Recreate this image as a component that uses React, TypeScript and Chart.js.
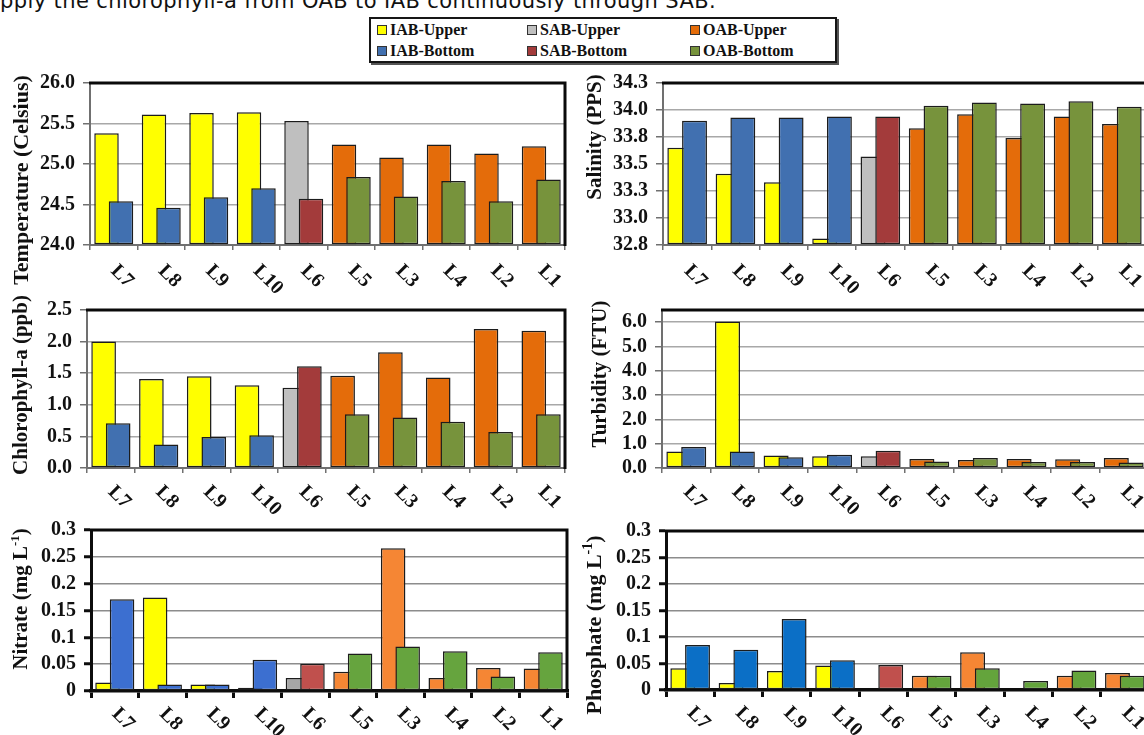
import React, { useEffect, useRef } from "react";
import { Chart, registerables } from "chart.js";

Chart.register(...registerables);

// ---------- data ----------
const stations = ["L7", "L8", "L9", "L10", "L6", "L5", "L3", "L4", "L2", "L1"];
const stationZones = ["IAB", "IAB", "IAB", "IAB", "SAB", "OAB", "OAB", "OAB", "OAB", "OAB"];

const temperatureUpper = [25.38, 25.61, 25.63, 25.64, 25.53, 25.24, 25.08, 25.24, 25.13, 25.22];
const temperatureBottom = [24.54, 24.46, 24.59, 24.7, 24.57, 24.84, 24.6, 24.79, 24.54, 24.81];
const salinityUpper = [33.65, 33.41, 33.33, 32.81, 33.57, 33.83, 33.96, 33.74, 33.94, 33.87];
const salinityBottom = [33.9, 33.93, 33.93, 33.94, 33.94, 34.04, 34.07, 34.06, 34.08, 34.03];
const chlorophyllUpper = [2.0, 1.41, 1.45, 1.31, 1.27, 1.46, 1.83, 1.43, 2.2, 2.17];
const chlorophyllBottom = [0.71, 0.37, 0.49, 0.52, 1.61, 0.85, 0.8, 0.73, 0.57, 0.85];
const turbidityUpper = [0.68, 6.03, 0.51, 0.48, 0.48, 0.37, 0.33, 0.37, 0.36, 0.41];
const turbidityBottom = [0.86, 0.68, 0.44, 0.55, 0.71, 0.27, 0.41, 0.25, 0.25, 0.23];
const nitrateUpper = [0.016, 0.174, 0.012, 0.006, 0.024, 0.036, 0.266, 0.024, 0.043, 0.042];
const nitrateBottom = [0.171, 0.012, 0.012, 0.058, 0.051, 0.07, 0.083, 0.074, 0.027, 0.072];
const phosphateUpper = [0.041, 0.013, 0.036, 0.046, 0, 0.027, 0.071, 0.002, 0.027, 0.032];
const phosphateBottom = [0.085, 0.076, 0.134, 0.056, 0.047, 0.027, 0.041, 0.017, 0.037, 0.027];

// tick values of each value axis
const temperatureTicks = [24, 24.5, 25, 25.5, 26];
const salinityTicks = [32.75, 33, 33.25, 33.5, 33.75, 34, 34.25];
const chlorophyllTicks = [0, 0.5, 1, 1.5, 2, 2.5];
const turbidityTicks = [0, 1, 2, 3, 4, 5, 6];
const nutrientTicks = [0, 0.05, 0.1, 0.15, 0.2, 0.25, 0.3];

const legendLabels = ["IAB-Upper", "SAB-Upper", "OAB-Upper", "IAB-Bottom", "SAB-Bottom", "OAB-Bottom"];
const legendColors = ["#FFFF00", "#BFBFBF", "#E46C0A", "#4170B0", "#A33B3B", "#77933C"];

const topTextLine = "pply the chlorophyll-a from OAB to IAB continuously through SAB.";

// ---------- styling ----------
const SERIF = '"Liberation Serif", "Times New Roman", Times, serif';

type Zone = "IAB" | "SAB" | "OAB";
type Palette = Record<Zone, { upper: string; bottom: string }>;

const paletteClassic: Palette = {
  IAB: { upper: "#FFFF00", bottom: "#4170B0" },
  SAB: { upper: "#BFBFBF", bottom: "#A33B3B" },
  OAB: { upper: "#E46C0A", bottom: "#77933C" },
};
const paletteNitrate: Palette = {
  IAB: { upper: "#FFFF00", bottom: "#3C6FD0" },
  SAB: { upper: "#A6A6A6", bottom: "#C0504D" },
  OAB: { upper: "#F58634", bottom: "#66A43E" },
};
const palettePhosphate: Palette = {
  IAB: { upper: "#FFFF00", bottom: "#0B6FC6" },
  SAB: { upper: "#A6A6A6", bottom: "#C0504D" },
  OAB: { upper: "#F58634", bottom: "#64A43C" },
};

const fmt1 = (v: number) => v.toFixed(1);
const fmtPlain = (v: number) => String(Math.round(v * 1000) / 1000);

interface PanelDef {
  id: string;
  upper: number[];
  bottom: number[];
  yMin: number;
  yMax: number;
  ticks: number[];
  fmt: (v: number) => string;
  titleParts: { text: string; sup?: boolean }[];
  titleSize: number;
  titleAt: { x: number; y: number };
  box: { left: number; top: number; width: number; height: number };
  plot: { l: number; t: number; r: number; b: number };
  palette: Palette;
  heavy: boolean;
  labelDy: number;
}

const panels: PanelDef[] = [
  {
    id: "temperature",
    upper: temperatureUpper,
    bottom: temperatureBottom,
    yMin: 24,
    yMax: 26,
    ticks: temperatureTicks,
    fmt: fmt1,
    titleParts: [{ text: "Temperature (Celsius)" }],
    titleSize: 22,
    titleAt: { x: 23, y: 180 },
    box: { left: 0, top: 60, width: 580, height: 240 },
    plot: { l: 90, t: 83, r: 565, b: 245 },
    palette: paletteClassic,
    heavy: false,
    labelDy: 23,
  },
  {
    id: "salinity",
    upper: salinityUpper,
    bottom: salinityBottom,
    yMin: 32.75,
    yMax: 34.25,
    ticks: salinityTicks,
    fmt: fmt1,
    titleParts: [{ text: "Salinity (PPS)" }],
    titleSize: 21,
    titleAt: { x: 596, y: 137 },
    box: { left: 560, top: 60, width: 600, height: 240 },
    plot: { l: 663, t: 83, r: 1146, b: 245 },
    palette: paletteClassic,
    heavy: false,
    labelDy: 23,
  },
  {
    id: "chlorophyll",
    upper: chlorophyllUpper,
    bottom: chlorophyllBottom,
    yMin: 0,
    yMax: 2.5,
    ticks: chlorophyllTicks,
    fmt: fmt1,
    titleParts: [{ text: "Chlorophyll-a (ppb)" }],
    titleSize: 21,
    titleAt: { x: 22, y: 385 },
    box: { left: 0, top: 290, width: 580, height: 230 },
    plot: { l: 87, t: 309, r: 565, b: 468 },
    palette: paletteClassic,
    heavy: false,
    labelDy: 21,
  },
  {
    id: "turbidity",
    upper: turbidityUpper,
    bottom: turbidityBottom,
    yMin: 0,
    yMax: 6.5,
    ticks: turbidityTicks,
    fmt: fmt1,
    titleParts: [{ text: "Turbidity (FTU)" }],
    titleSize: 21,
    titleAt: { x: 601, y: 374 },
    box: { left: 560, top: 290, width: 600, height: 230 },
    plot: { l: 662, t: 309, r: 1148, b: 468 },
    palette: paletteClassic,
    heavy: false,
    labelDy: 21,
  },
  {
    id: "nitrate",
    upper: nitrateUpper,
    bottom: nitrateBottom,
    yMin: 0,
    yMax: 0.3,
    ticks: nutrientTicks,
    fmt: fmtPlain,
    titleParts: [{ text: "Nitrate (mg L" }, { text: "-1", sup: true }, { text: ")" }],
    titleSize: 21,
    titleAt: { x: 22, y: 599 },
    box: { left: 0, top: 510, width: 580, height: 225 },
    plot: { l: 91, t: 530, r: 567, b: 691 },
    palette: paletteNitrate,
    heavy: true,
    labelDy: 20,
  },
  {
    id: "phosphate",
    upper: phosphateUpper,
    bottom: phosphateBottom,
    yMin: 0,
    yMax: 0.3,
    ticks: nutrientTicks,
    fmt: fmtPlain,
    titleParts: [{ text: "Phosphate (mg L" }, { text: "-1", sup: true }, { text: ")" }],
    titleSize: 22,
    titleAt: { x: 596, y: 625 },
    box: { left: 560, top: 510, width: 600, height: 225 },
    plot: { l: 666, t: 531, r: 1149, b: 690 },
    palette: palettePhosphate,
    heavy: true,
    labelDy: 20,
  },
];

function BarPanel({ def }: { def: PanelDef }) {
  const ref = useRef<HTMLCanvasElement | null>(null);

  useEffect(() => {
    const canvas = ref.current;
    if (!canvas) return;
    const { box, plot } = def;
    const axisW = plot.l - box.left;
    const axisH = box.top + box.height - plot.b;
    const upperColors = stationZones.map((z) => def.palette[z as Zone].upper);
    const bottomColors = stationZones.map((z) => def.palette[z as Zone].bottom);
    const axisColor = def.heavy ? "#0d0d0d" : "#707070";
    const gridColor = def.heavy ? "#8c8c8c" : "#a8a8a8";
    const barCommon = {
      borderColor: "#1c1c1c",
      borderWidth: 1.5,
      borderSkipped: false,
      barPercentage: 1.69,
      categoryPercentage: 0.61,
      base: def.yMin,
    };

    // draw the second (bottom-water) series over the first, as in the figure
    const bottomOnTop = {
      id: "bottomOnTop",
      beforeDatasetDraw(_c: any, args: any) {
        if (args.index === 1) return false;
        return true;
      },
      afterDatasetsDraw(c: any) {
        const meta = c.getDatasetMeta(1);
        const { left, top, right, bottom } = c.chartArea;
        c.ctx.save();
        c.ctx.beginPath();
        c.ctx.rect(left, top - 2, right - left, bottom - top + 2);
        c.ctx.clip();
        meta.controller.draw();
        c.ctx.restore();
      },
    };

    const frame = {
      id: "frame",
      afterDraw(c: any) {
        const { ctx, chartArea } = c;
        const { left, top, right, bottom } = chartArea;
        ctx.save();
        ctx.strokeStyle = "#0a0a0a";
        ctx.lineWidth = 3;
        ctx.beginPath();
        ctx.moveTo(left - 1, top);
        ctx.lineTo(right, top);
        ctx.lineTo(right, bottom + 1);
        ctx.stroke();
        ctx.restore();
      },
    };

    const stationLabels = {
      id: "stationLabels",
      afterDraw(c: any) {
        const { ctx, chartArea } = c;
        const xs = c.scales.x;
        ctx.save();
        ctx.font = `bold 20px ${SERIF}`;
        ctx.fillStyle = "#111";
        ctx.textAlign = "left";
        ctx.textBaseline = "middle";
        (c.data.labels as string[]).forEach((lab, i) => {
          ctx.save();
          ctx.translate(xs.getPixelForValue(i), chartArea.bottom + def.labelDy);
          ctx.rotate(Math.PI / 4);
          ctx.fillText(lab, 0, 0);
          ctx.restore();
        });
        ctx.restore();
      },
    };

    const axisTitle = {
      id: "axisTitle",
      afterDraw(c: any) {
        const ctx = c.ctx;
        const big = `bold ${def.titleSize}px ${SERIF}`;
        const small = `bold ${Math.round(def.titleSize * 0.62)}px ${SERIF}`;
        let total = 0;
        const widths = def.titleParts.map((p) => {
          ctx.font = p.sup ? small : big;
          const w = ctx.measureText(p.text).width;
          total += w;
          return w;
        });
        ctx.save();
        ctx.translate(def.titleAt.x - box.left, def.titleAt.y - box.top);
        ctx.rotate(-Math.PI / 2);
        ctx.fillStyle = "#111";
        ctx.textAlign = "left";
        ctx.textBaseline = "alphabetic";
        const base = def.titleSize * 0.22;
        let x = -total / 2;
        def.titleParts.forEach((p, i) => {
          ctx.font = p.sup ? small : big;
          ctx.fillText(p.text, x, p.sup ? base - def.titleSize * 0.38 : base);
          x += widths[i];
        });
        ctx.restore();
      },
    };

    const chart = new Chart(canvas, {
      type: "bar",
      data: {
        labels: stations,
        datasets: [
          { label: "Upper", data: def.upper, backgroundColor: upperColors, ...barCommon } as any,
          { label: "Bottom", data: def.bottom, backgroundColor: bottomColors, ...barCommon } as any,
        ],
      },
      options: {
        responsive: false,
        animation: false,
        devicePixelRatio: 1,
        layout: {
          padding: { top: plot.t - box.top, right: box.left + box.width - plot.r, left: 0, bottom: 0 },
        },
        plugins: {
          legend: { display: false },
          tooltip: { enabled: false },
          title: { display: false },
        },
        scales: {
          x: {
            type: "category",
            offset: true,
            grid: {
              offset: true,
              drawOnChartArea: false,
              drawTicks: true,
              tickLength: def.heavy ? 7 : 5,
              color: axisColor,
              lineWidth: def.heavy ? 3 : 1.5,
            },
            border: { display: true, color: axisColor, width: def.heavy ? 3.5 : 2 },
            ticks: { display: false },
            afterFit: (s: any) => {
              s.height = axisH;
            },
          },
          y: {
            min: def.yMin,
            max: def.yMax,
            grid: {
              color: gridColor,
              lineWidth: 1.5,
              drawTicks: true,
              tickLength: 7,
              tickColor: axisColor,
              tickWidth: def.heavy ? 3 : 1.5,
            },
            border: { display: true, color: axisColor, width: def.heavy ? 3 : 2 },
            ticks: {
              autoSkip: false,
              padding: 8,
              color: "#111",
              font: { family: SERIF, size: 20, weight: "bold" },
              callback: (v: any) => def.fmt(Number(v)),
            },
            afterBuildTicks: (s: any) => {
              s.ticks = def.ticks.map((v) => ({ value: v }));
            },
            afterFit: (s: any) => {
              s.width = axisW;
            },
          },
        },
      } as any,
      plugins: [bottomOnTop, frame, stationLabels, axisTitle] as any,
    });
    return () => chart.destroy();
  }, [def]);

  return (
    <canvas
      ref={ref}
      width={def.box.width}
      height={def.box.height}
      style={{
        position: "absolute",
        left: def.box.left,
        top: def.box.top,
        width: def.box.width,
        height: def.box.height,
      }}
    />
  );
}

function Legend() {
  const colLeft = [6, 156, 319];
  return (
    <div
      style={{
        position: "absolute",
        left: 369,
        top: 17,
        width: 468,
        height: 46,
        border: "2px solid #161616",
        boxShadow: "2px 2px 0 #555",
        boxSizing: "border-box",
        background: "#fff",
      }}
    >
      {legendLabels.map((lab, i) => {
        const col = i % 3;
        const row = Math.floor(i / 3);
        return (
          <div
            key={lab}
            style={{
              position: "absolute",
              left: colLeft[col],
              top: row === 0 ? 1 : 22,
              height: 20,
              display: "flex",
              alignItems: "center",
              whiteSpace: "nowrap",
              fontFamily: SERIF,
              fontWeight: "bold",
              fontSize: 16,
              color: "#111",
            }}
          >
            <span
              style={{
                display: "inline-block",
                width: 8,
                height: 8,
                border: "1px solid #333",
                background: legendColors[i],
                marginRight: 3,
              }}
            />
            {lab}
          </div>
        );
      })}
    </div>
  );
}

export default function App() {
  return (
    <div
      style={{
        position: "fixed",
        left: 0,
        top: 0,
        width: 1144,
        height: 735,
        overflow: "hidden",
        background: "#fff",
      }}
    >
      <div
        style={{
          position: "absolute",
          left: 0,
          top: -11.5,
          fontFamily: '"DejaVu Sans", Verdana, sans-serif',
          fontSize: 21,
          letterSpacing: 0.4,
          lineHeight: "24px",
          whiteSpace: "nowrap",
          color: "#111",
        }}
      >
        {topTextLine}
      </div>
      <Legend />
      {panels.map((d) => (
        <BarPanel key={d.id} def={d} />
      ))}
    </div>
  );
}
